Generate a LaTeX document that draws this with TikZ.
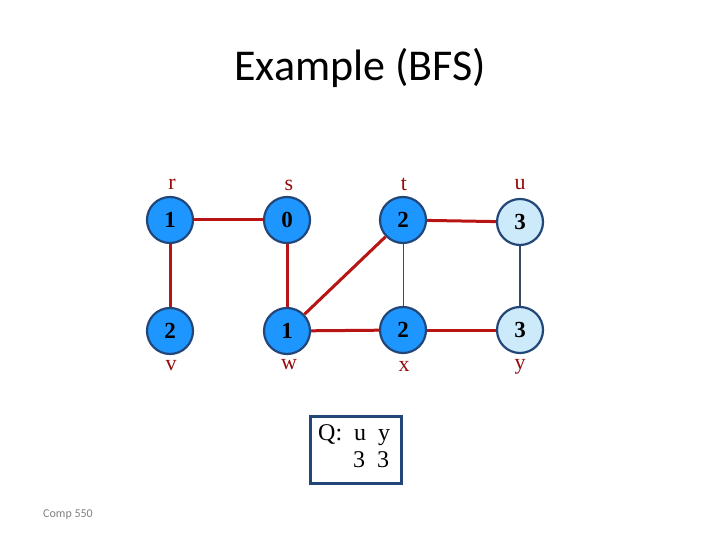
\documentclass[tikz,border=0pt]{standalone}
\usepackage{fontspec}
\setmainfont{Liberation Serif}
\newfontfamily\titlefont{Carlito}
\definecolor{nodeblue}{RGB}{30,150,255}
\definecolor{lightblue}{RGB}{205,234,250}
\definecolor{borderblue}{RGB}{35,70,120}
\definecolor{edgered}{RGB}{185,20,20}
\definecolor{labelred}{RGB}{150,10,10}
\definecolor{slate}{RGB}{55,75,100}
\begin{document}
\begin{tikzpicture}[x=1pt,y=-1pt,
  vert/.style={circle,draw=borderblue,line width=2.2pt,fill=nodeblue,minimum size=46pt,inner sep=0pt,font=\fontsize{23}{24}\selectfont\bfseries},
  vertl/.style={vert,fill=lightblue},
  lab/.style={text=labelred,font=\fontsize{22}{24}\selectfont,inner sep=0pt},
  redge/.style={draw=edgered,line width=3pt},
  thinedge/.style={draw=slate,line width=0.8pt},
  midedge/.style={draw=slate,line width=1.6pt}]
\useasboundingbox[fill=white] (0,0) rectangle (720,540);
\node[font=\titlefont\fontsize{44}{48}\selectfont] (title) at (360,68) {Example (BFS)};
\node[vert] (r) at (170,220) {1};
\node[vert] (s) at (287,220) {0};
\node[vert] (t) at (403,220) {2};
\node[vertl] (u) at (520,222) {3};
\node[vert] (v) at (170,331) {2};
\node[vert] (w) at (287,331) {1};
\node[vert] (x) at (403,330) {2};
\node[vertl] (y) at (520,330) {3};
\node[lab] (lr) at (172,184) {r};
\node[lab] (ls) at (289,185) {s};
\node[lab] (lt) at (404,184) {t};
\node[lab] (lu) at (520,185) {u};
\node[lab] (lv) at (171,366) {v};
\node[lab] (lw) at (289,365) {w};
\node[lab] (lx) at (404,366) {x};
\node[lab] (ly) at (520,367) {y};
\draw[redge] (r) -- (s);
\draw[redge] (r) -- (v);
\draw[redge] (s) -- (w);
\draw[redge] (w) -- (t);
\draw[redge] (w) -- (x);
\draw[redge] (t) -- (u);
\draw[redge] (x) -- (y);
\draw[thinedge] (t) -- (x);
\draw[midedge] (u) -- (y);
\node[draw=borderblue,line width=2.5pt,minimum width=91pt,minimum height=67pt,inner sep=0pt] (q) at (356,450) {};
\node[font=\fontsize{24}{29}\selectfont,align=left,anchor=north west,inner sep=0pt] (qt) at (318,424) {Q:\ \ u\ \ y\\[-2pt]\hspace*{35pt}3\ \ 3};
\node[font=\titlefont\fontsize{12}{14}\selectfont,text=gray] (comp) at (68,515) {Comp 550};
\end{tikzpicture}
\end{document}
